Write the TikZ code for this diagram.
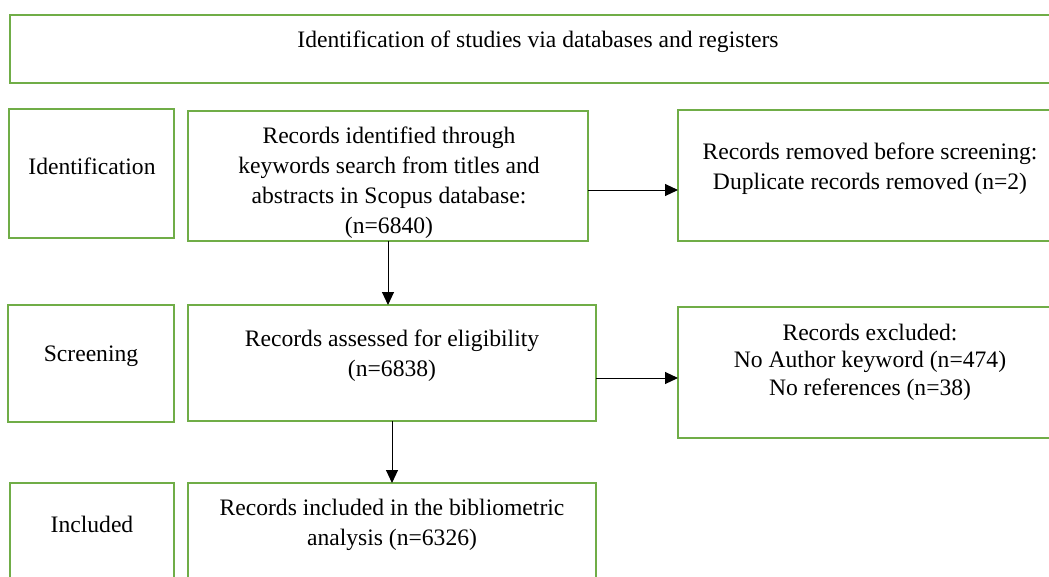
\documentclass[tikz,border=0pt]{standalone}
\usepackage{fontspec}
\setmainfont{Liberation Serif}
\usetikzlibrary{arrows.meta}
\definecolor{boxgreen}{RGB}{112,173,71}
\tikzset{
  box/.style={draw=boxgreen, line width=2.5pt, rectangle, inner sep=0pt, outer sep=0pt, anchor=north west},
  txt/.style={inner sep=0pt, align=center, font=\fontsize{23.6}{29.8}\selectfont},
  arr/.style={draw=black, line width=1pt, -{Triangle[length=13pt,width=12pt]}},
}
\begin{document}
\begin{tikzpicture}[x=1pt,y=-1pt]
\useasboundingbox (0,0) rectangle (1049,576);
\clip (0,0) rectangle (1049,576);
% boxes
\node[box, minimum width=1050pt, minimum height=68pt] (head) at (10,15) {};
\node[box, minimum width=165pt, minimum height=129pt] (stId) at (9,109) {};
\node[box, minimum width=400pt, minimum height=130pt] (rid) at (188,111) {};
\node[box, minimum width=380pt, minimum height=131pt] (rem) at (678,110) {};
\node[box, minimum width=166pt, minimum height=117pt] (stSc) at (8,305) {};
\node[box, minimum width=408pt, minimum height=116pt] (ras) at (188,305) {};
\node[box, minimum width=380pt, minimum height=131pt] (exc) at (678,307) {};
\node[box, minimum width=164pt, minimum height=110pt] (stIn) at (10,483) {};
\node[box, minimum width=408pt, minimum height=110pt] (rinc) at (188,483) {};
% texts
\node[txt] (headT) at (538,42) {Identification of studies via databases and registers};
\node[txt] (stIdT) at (92,166) {Identification};
\begin{scope}
\clip ([shift={(1.25pt,-1.25pt)}]rid.north west) rectangle ([shift={(-1.25pt,1.25pt)}]rid.south east);
\node[txt, font=\fontsize{23.6}{30}\selectfont] (ridT) at (389,183) {Records identified through\\keywords search from titles and\\abstracts in Scopus database:\\(n=6840)};
\end{scope}
\node[txt] (remT) at (870,169) {Records removed before screening:\\Duplicate records removed (n=2)};
\node[txt] (stScT) at (91,356) {Screening};
\node[txt] (rasT) at (392,356) {Records assessed for eligibility\\(n=6838)};
\node[txt, font=\fontsize{23.6}{27.5}\selectfont] (excT) at (870,362) {Records excluded:\\No Author keyword (n=474)\\No references (n=38)};
\node[txt] (stInT) at (92,524) {Included};
\node[txt] (rincT) at (392,525) {Records included in the bibliometric\\analysis (n=6326)};
% connectors
\draw[arr] ([yshift=-14pt]rid.east) -- ([yshift=-14pt]rid.east -| rem.west);
\draw[arr] (rid.south) -- (rid.south |- ras.north);
\draw[arr] ([yshift=-15pt]ras.east) -- ([yshift=-15pt]ras.east -| exc.west);
\draw[arr] (ras.south) -- (rinc.north);
\end{tikzpicture}
\end{document}
